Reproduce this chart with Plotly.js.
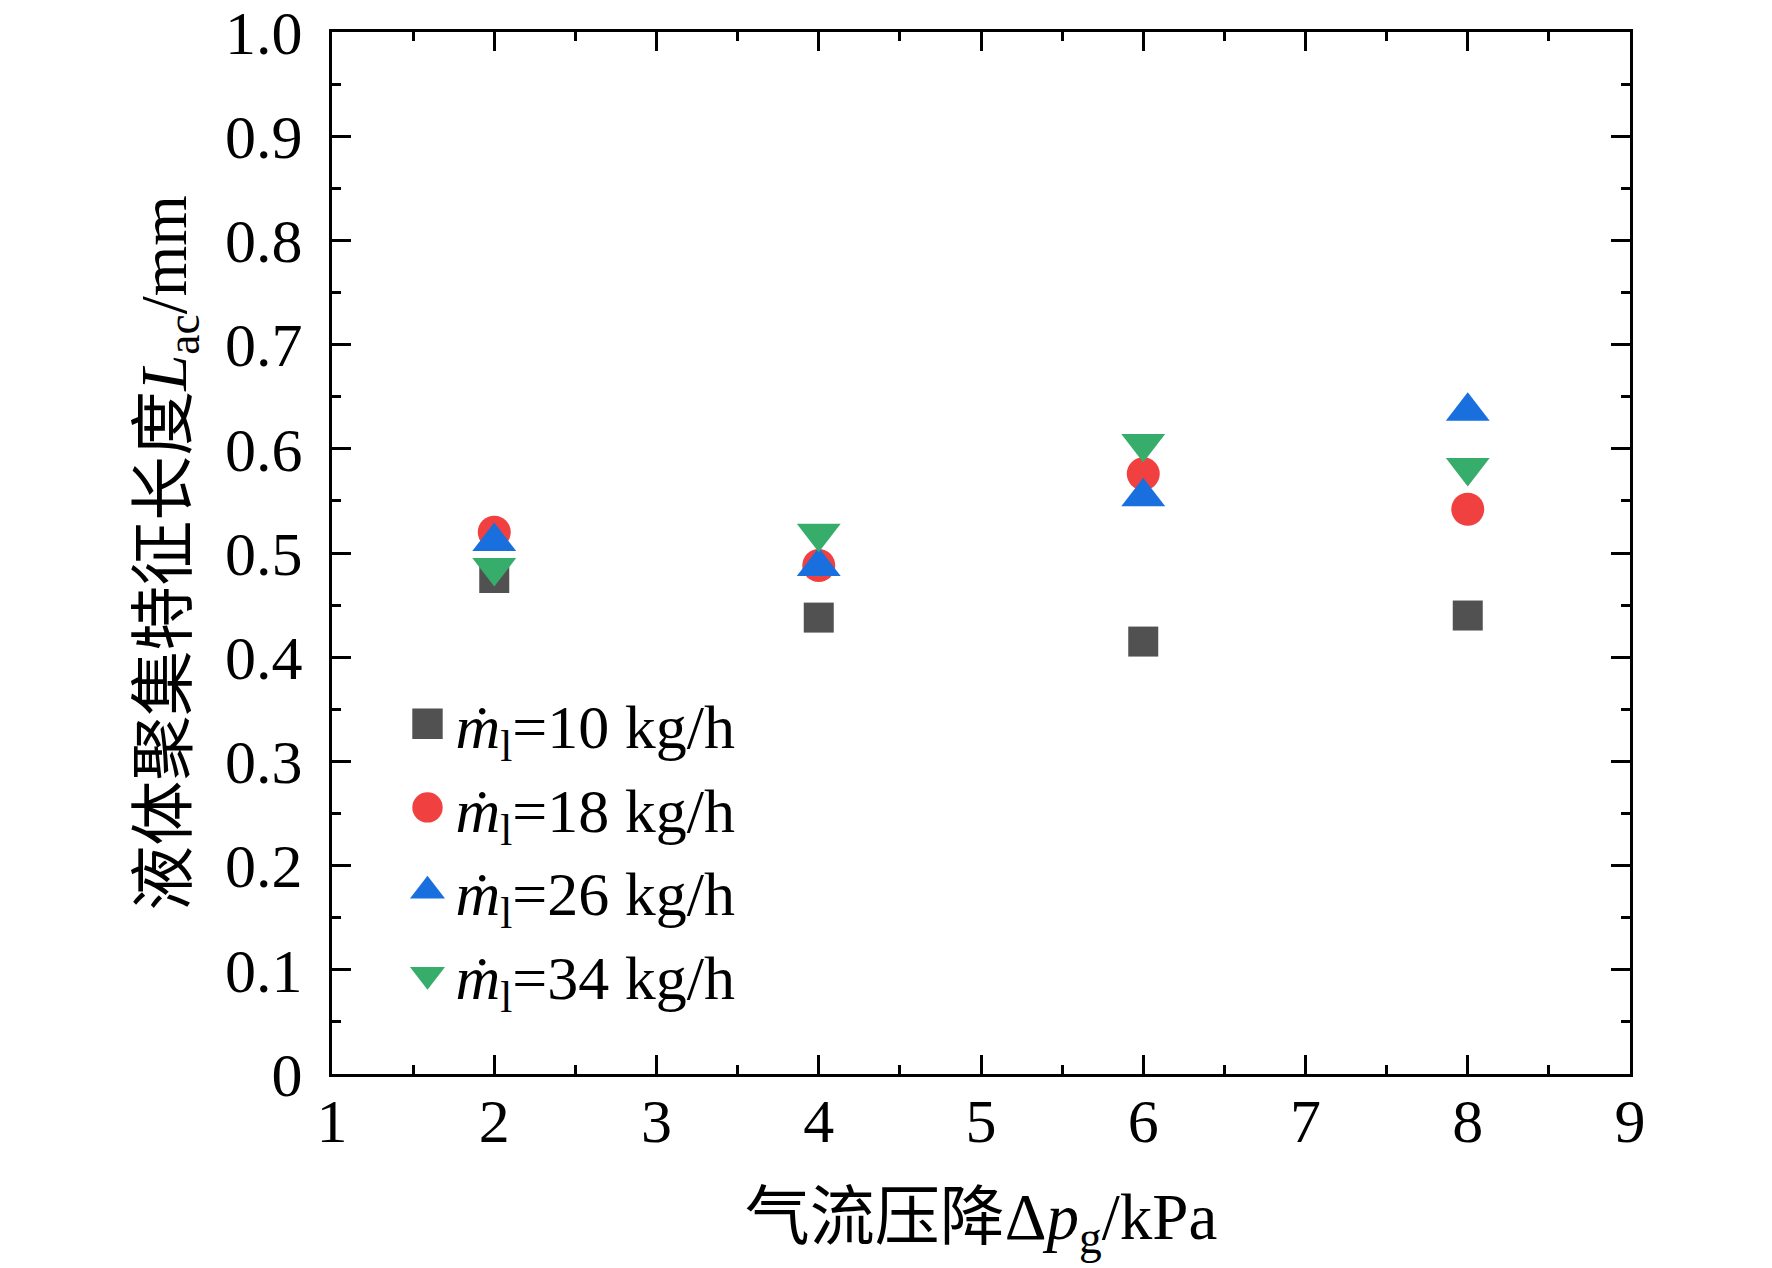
<!DOCTYPE html>
<html>
<head>
<meta charset="utf-8">
<script src="https://cdn.plot.ly/plotly-3.0.1.min.js"></script>
<style>
  body { margin: 0; background: #fff; }
</style>
</head>
<body>
<div id="chart"></div>
<script>
// gas pressure drop, kPa
var dp = [2, 4, 6, 8];

// liquid accumulation length L_ac (mm) for each liquid flow rate
var flowRates = [10, 18, 26, 34];
var lac10 = [0.476, 0.438, 0.415, 0.440];
var lac18 = [0.520, 0.488, 0.576, 0.542];
var lac26 = [0.511, 0.487, 0.554, 0.636];
var lac34 = [0.486, 0.519, 0.605, 0.582];

var yTickVals = [0, 0.1, 0.2, 0.3, 0.4, 0.5, 0.6, 0.7, 0.8, 0.9, 1.0];
var yTickText = ['0', '0.1', '0.2', '0.3', '0.4', '0.5', '0.6', '0.7', '0.8', '0.9', '1.0'];

var colors = ['#515151', '#F14040', '#1A6FDF', '#37AD6B'];
var symbols = ['square', 'circle', 'triangle-up', 'triangle-down'];
var sizes = [30, 33, 38, 38];
var series = [lac10, lac18, lac26, lac34];

var font = "'Liberation Serif', 'Times New Roman', 'Noto Sans CJK SC', serif";

var data = series.map(function (ys, i) {
    return {
        x: dp,
        y: ys,
        type: 'scatter',
        mode: 'markers',
        name: '<i>ṁ</i><sub>l</sub>=' + flowRates[i] + ' kg/h',
        marker: { symbol: symbols[i], size: sizes[i], color: colors[i] }
    };
});

var axisCommon = {
    showgrid: false,
    zeroline: false,
    showline: true,
    linecolor: '#000',
    linewidth: 3,
    mirror: 'ticks',
    ticks: 'inside',
    ticklen: 19,
    tickwidth: 3,
    tickcolor: '#000',
    ticklabeloverflow: 'allow',
    tickfont: { family: font, size: 62, color: '#000' }
};

var layout = {
    width: 1772,
    height: 1268,
    margin: { l: 332, r: 142, t: 32, b: 194 },
    paper_bgcolor: '#fff',
    plot_bgcolor: '#fff',
    font: { family: font, color: '#000' },
    showlegend: true,
    legend: {
        x: 0.052, y: 0.381, xanchor: 'left', yanchor: 'top',
        bgcolor: 'rgba(0,0,0,0)',
        itemwidth: 46,
        font: { family: font, size: 62, color: '#000' },
        tracegroupgap: 0
    },
    xaxis: Object.assign({}, axisCommon, {
        range: [1, 9],
        dtick: 1,
        tick0: 1,
        ticklabelstandoff: -9,
        minor: { dtick: 0.5, ticks: 'inside', ticklen: 9, tickwidth: 3, tickcolor: '#000' },
        title: {
            text: '气流压降Δ<i>p</i><sub>g</sub>/kPa',
            font: { family: font, size: 65, color: '#000' },
            standoff: 40
        }
    }),
    yaxis: Object.assign({}, axisCommon, {
        range: [0, 1],
        tickvals: yTickVals,
        ticktext: yTickText,
        ticklabelstandoff: 14,
        minor: { dtick: 0.05, ticks: 'inside', ticklen: 9, tickwidth: 3, tickcolor: '#000' },
        title: {
            text: '液体聚集特征长度<i>L</i><sub>ac</sub>/mm',
            font: { family: font, size: 65, color: '#000' },
            standoff: 18
        }
    })
};

Plotly.newPlot('chart', data, layout, { displayModeBar: false, staticPlot: true }).then(function () {
    // legend symbols are capped at 16px by plotly, enlarge them to match the plot markers
    document.querySelectorAll('.legend .legendpoints path.scatterpts').forEach(function (p) {
        var t = p.getAttribute('transform') || '';
        p.setAttribute('transform', t + ' scale(1.9)');
    });
});
</script>
</body>
</html>
